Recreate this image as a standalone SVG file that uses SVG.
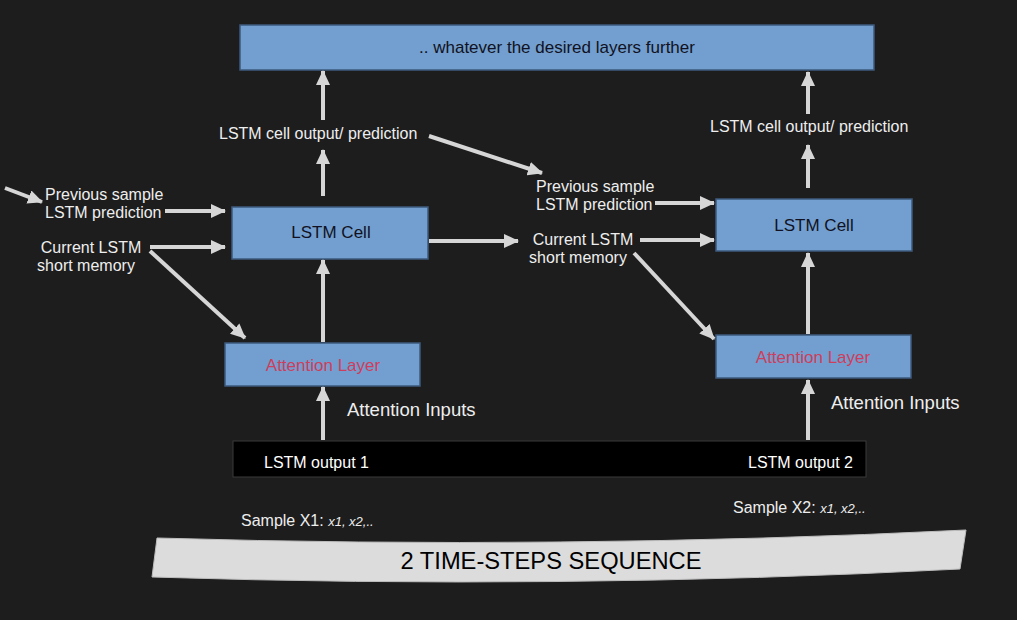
<svg xmlns="http://www.w3.org/2000/svg" width="1017" height="620" viewBox="0 0 1017 620">
<style>
text{font-family:"Liberation Sans",Arial,sans-serif;}
.lbl{fill:#eeeeee;font-size:16px;}
.box{fill:#729fcf;stroke:#3d5a7e;stroke-width:1.5;}
.boxt{fill:#111122;font-size:17px;text-anchor:middle;}
.att{fill:#cf3d5c;font-size:17px;text-anchor:middle;}
.ai{fill:#eeeeee;font-size:18.5px;}
.arr{stroke:#d6d6d6;stroke-width:4;fill:none;marker-end:url(#ah);}
.out{fill:#ffffff;font-size:16px;}
</style>
<defs>
<marker id="ah" markerUnits="userSpaceOnUse" markerWidth="16" markerHeight="14" refX="14" refY="7" orient="auto">
<path d="M0,0 L15,7 L0,14 Z" fill="#d6d6d6"/>
</marker>
</defs>
<rect width="1017" height="620" fill="#1d1d1d"/>

<g id="top-layers">
<rect class="box" x="240" y="25" width="634" height="45"/>
<text class="boxt" x="557" y="53" font-size="17">.. whatever the desired layers further</text>
</g>

<g id="lstm-cell-1">
<rect class="box" x="232" y="207" width="196" height="52"/>
<text class="boxt" x="331" y="238">LSTM Cell</text>
</g>
<g id="attention-1">
<rect class="box" x="225" y="343" width="195" height="43"/>
<text class="att" x="323" y="371">Attention Layer</text>
</g>
<g id="lstm-cell-2">
<rect class="box" x="716" y="199" width="196" height="52"/>
<text class="boxt" x="814" y="231">LSTM Cell</text>
</g>
<g id="attention-2">
<rect class="box" x="716" y="335" width="195" height="43"/>
<text class="att" x="813" y="363">Attention Layer</text>
</g>

<g id="lstm-outputs">
<rect x="233" y="441" width="633" height="36" fill="#000000" stroke="#3a3a3a" stroke-width="1"/>
<text class="out" x="264" y="468">LSTM output 1</text>
<text class="out" x="748" y="468">LSTM output 2</text>
</g>

<g id="labels">
<text class="lbl" x="219" y="139">LSTM cell output/ prediction</text>
<text class="lbl" x="710" y="132">LSTM cell output/ prediction</text>
<text class="lbl" x="45" y="200">Previous sample</text>
<text class="lbl" x="45" y="218">LSTM prediction</text>
<text class="lbl" x="91" y="253" text-anchor="middle">Current LSTM</text>
<text class="lbl" x="86" y="271" text-anchor="middle">short memory</text>
<text class="lbl" x="536" y="192">Previous sample</text>
<text class="lbl" x="536" y="210">LSTM prediction</text>
<text class="lbl" x="583" y="245" text-anchor="middle">Current LSTM</text>
<text class="lbl" x="578" y="263" text-anchor="middle">short memory</text>
<text class="ai" x="347" y="416">Attention Inputs</text>
<text class="ai" x="831" y="409">Attention Inputs</text>
<text class="lbl" x="241" y="526">Sample X1: <tspan font-style="italic" font-size="13px">x1, x2,..</tspan></text>
<text class="lbl" x="733" y="513">Sample X2: <tspan font-style="italic" font-size="13px">x1, x2,..</tspan></text>
</g>

<g id="sequence-banner">
<path d="M157,538 Q560,550 966,530 L960,569 Q560,590 152,577 Z" fill="#dcdcdc" stroke="#bdbdbd" stroke-width="1"/>
<text x="551" y="569" font-size="23.7" fill="#000000" text-anchor="middle">2 TIME-STEPS SEQUENCE</text>
</g>

<g id="connectors">
<line class="arr" x1="323" y1="440" x2="323" y2="387"/>
<line class="arr" x1="323" y1="342" x2="323" y2="260"/>
<line class="arr" x1="323" y1="196" x2="323" y2="150"/>
<line class="arr" x1="323" y1="120" x2="323" y2="71"/>
<line class="arr" x1="429" y1="136" x2="542" y2="173"/>
<line class="arr" x1="5" y1="188" x2="42" y2="202"/>
<line class="arr" x1="165" y1="211" x2="225" y2="211"/>
<line class="arr" x1="150" y1="247" x2="225" y2="247"/>
<line class="arr" x1="150" y1="251" x2="245" y2="338"/>
<line class="arr" x1="429" y1="241" x2="518" y2="241"/>
<line class="arr" x1="655" y1="203" x2="714" y2="203"/>
<line class="arr" x1="640" y1="240" x2="714" y2="240"/>
<line class="arr" x1="634" y1="253" x2="714" y2="339"/>
<line class="arr" x1="808" y1="440" x2="808" y2="380"/>
<line class="arr" x1="808" y1="334" x2="808" y2="253"/>
<line class="arr" x1="808" y1="188" x2="808" y2="145"/>
<line class="arr" x1="808" y1="114" x2="808" y2="72"/>
</g>
</svg>
